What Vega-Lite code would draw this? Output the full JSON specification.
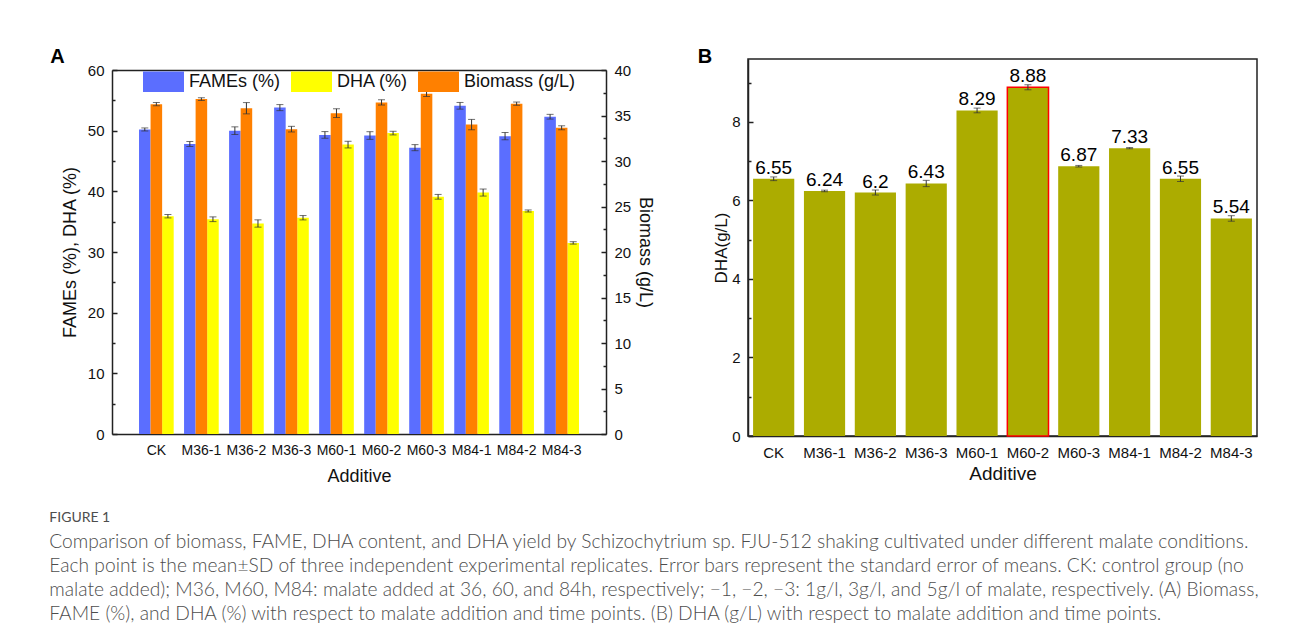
{
  "$schema": "https://vega.github.io/schema/vega-lite/v6.json",
  "background": "white",
  "padding": {"left": 49, "top": 46, "right": 10, "bottom": 5},
  "autosize": {"type": "pad"},
  "config": {
    "font": "Liberation Sans",
    "view": {"stroke": "#222", "strokeWidth": 1.5},
    "axis": {
      "domainColor": "#222", "domainWidth": 1.5, "tickColor": "#222", "tickWidth": 1.5,
      "labelColor": "#111", "titleColor": "#111", "grid": false,
      "labelFont": "Liberation Sans", "titleFont": "Liberation Sans", "titleFontWeight": "normal",
      "labelFontSize": 15, "titleFontSize": 18, "labelOverlap": false
    },
    "legend": {
      "orient": "none", "legendX": 31, "legendY": 2, "direction": "horizontal",
      "symbolType": "M-1,-0.5H1V0.5H-1Z", "symbolSize": 1681, "symbolStrokeWidth": 0,
      "labelFontSize": 18, "labelFont": "Liberation Sans", "labelColor": "#111",
      "columnPadding": 10, "labelOffset": 5, "title": null, "padding": 0
    }
  },
  "datasets": {
    "A": [
      {"Additive": "CK", "Series": "FAMEs (%)", "Axis": "left", "Value": 50.2, "Err": 0.25},
      {"Additive": "CK", "Series": "DHA (%)", "Axis": "left", "Value": 35.9, "Err": 0.28},
      {"Additive": "CK", "Series": "Biomass (g/L)", "Axis": "right", "Value": 36.25, "Err": 0.18},
      {"Additive": "M36-1", "Series": "FAMEs (%)", "Axis": "left", "Value": 47.8, "Err": 0.41},
      {"Additive": "M36-1", "Series": "DHA (%)", "Axis": "left", "Value": 35.4, "Err": 0.39},
      {"Additive": "M36-1", "Series": "Biomass (g/L)", "Axis": "right", "Value": 36.8, "Err": 0.15},
      {"Additive": "M36-2", "Series": "FAMEs (%)", "Axis": "left", "Value": 50.0, "Err": 0.63},
      {"Additive": "M36-2", "Series": "DHA (%)", "Axis": "left", "Value": 34.7, "Err": 0.6},
      {"Additive": "M36-2", "Series": "Biomass (g/L)", "Axis": "right", "Value": 35.8, "Err": 0.62},
      {"Additive": "M36-3", "Series": "FAMEs (%)", "Axis": "left", "Value": 53.8, "Err": 0.5},
      {"Additive": "M36-3", "Series": "DHA (%)", "Axis": "left", "Value": 35.65, "Err": 0.36},
      {"Additive": "M36-3", "Series": "Biomass (g/L)", "Axis": "right", "Value": 33.5, "Err": 0.31},
      {"Additive": "M60-1", "Series": "FAMEs (%)", "Axis": "left", "Value": 49.3, "Err": 0.55},
      {"Additive": "M60-1", "Series": "DHA (%)", "Axis": "left", "Value": 47.7, "Err": 0.55},
      {"Additive": "M60-1", "Series": "Biomass (g/L)", "Axis": "right", "Value": 35.26, "Err": 0.48},
      {"Additive": "M60-2", "Series": "FAMEs (%)", "Axis": "left", "Value": 49.2, "Err": 0.63},
      {"Additive": "M60-2", "Series": "DHA (%)", "Axis": "left", "Value": 49.6, "Err": 0.3},
      {"Additive": "M60-2", "Series": "Biomass (g/L)", "Axis": "right", "Value": 36.44, "Err": 0.29},
      {"Additive": "M60-3", "Series": "FAMEs (%)", "Axis": "left", "Value": 47.2, "Err": 0.5},
      {"Additive": "M60-3", "Series": "DHA (%)", "Axis": "left", "Value": 39.1, "Err": 0.39},
      {"Additive": "M60-3", "Series": "Biomass (g/L)", "Axis": "right", "Value": 37.4, "Err": 0.31},
      {"Additive": "M84-1", "Series": "FAMEs (%)", "Axis": "left", "Value": 54.1, "Err": 0.55},
      {"Additive": "M84-1", "Series": "DHA (%)", "Axis": "left", "Value": 39.8, "Err": 0.58},
      {"Additive": "M84-1", "Series": "Biomass (g/L)", "Axis": "right", "Value": 34.0, "Err": 0.57},
      {"Additive": "M84-2", "Series": "FAMEs (%)", "Axis": "left", "Value": 49.1, "Err": 0.6},
      {"Additive": "M84-2", "Series": "DHA (%)", "Axis": "left", "Value": 36.76, "Err": 0.17},
      {"Additive": "M84-2", "Series": "Biomass (g/L)", "Axis": "right", "Value": 36.3, "Err": 0.18},
      {"Additive": "M84-3", "Series": "FAMEs (%)", "Axis": "left", "Value": 52.3, "Err": 0.39},
      {"Additive": "M84-3", "Series": "DHA (%)", "Axis": "left", "Value": 31.5, "Err": 0.2},
      {"Additive": "M84-3", "Series": "Biomass (g/L)", "Axis": "right", "Value": 33.65, "Err": 0.22}
    ],
    "B": [
      {"Additive": "CK", "DHA": 6.55, "Err": 0.047},
      {"Additive": "M36-1", "DHA": 6.24, "Err": 0.02},
      {"Additive": "M36-2", "DHA": 6.2, "Err": 0.064},
      {"Additive": "M36-3", "DHA": 6.43, "Err": 0.08},
      {"Additive": "M60-1", "DHA": 8.29, "Err": 0.06},
      {"Additive": "M60-2", "DHA": 8.88, "Err": 0.064},
      {"Additive": "M60-3", "DHA": 6.87, "Err": 0.02},
      {"Additive": "M84-1", "DHA": 7.33, "Err": 0.015},
      {"Additive": "M84-2", "DHA": 6.55, "Err": 0.07},
      {"Additive": "M84-3", "DHA": 5.54, "Err": 0.07}
    ]
  },
  "title": {
    "text": "FIGURE 1",
    "subtitle": [
      "Comparison of biomass, FAME, DHA content, and DHA yield by Schizochytrium sp. FJU-512 shaking cultivated under different malate conditions.",
      "Each point is the mean±SD of three independent experimental replicates. Error bars represent the standard error of means. CK: control group (no",
      "malate added); M36, M60, M84: malate added at 36, 60, and 84h, respectively; −1, −2, −3: 1g/l, 3g/l, and 5g/l of malate, respectively. (A) Biomass,",
      "FAME (%), and DHA (%) with respect to malate addition and time points. (B) DHA (g/L) with respect to malate addition and time points."
    ],
    "orient": "bottom", "anchor": "start", "offset": 26, "dx": -1,
    "font": "Lato", "fontSize": 14, "fontWeight": "normal", "color": "#4d4d4d",
    "subtitleFont": "Lato", "subtitleFontSize": 19.2, "subtitleFontWeight": 300, "subtitleColor": "#4d4d4d",
    "subtitlePadding": 8, "subtitleLineHeight": 24
  },
  "columns": 2,
  "spacing": 42,
  "concat": [
    {
      "width": 494, "height": 375,
      "view": {"stroke": null},
      "title": {"text": "A", "anchor": "start", "fontSize": 20, "fontWeight": "bold", "color": "#000", "offset": -8, "dx": -11},
      "data": {"name": "A"},
      "encoding": {
        "x": {
          "field": "Additive", "type": "nominal", "sort": null,
          "scale": {"paddingInner": 0.23, "paddingOuter": 0.6},
          "axis": {"title": "Additive", "labelAngle": 0, "labelFontSize": 14, "tickSize": -5, "labelPadding": 14, "titlePadding": 10}
        },
        "xOffset": {
          "field": "Series", "type": "nominal",
          "scale": {"domain": ["FAMEs (%)", "Biomass (g/L)", "DHA (%)"], "paddingInner": 0, "paddingOuter": 0}
        }
      },
      "layer": [
        {
          "transform": [{"filter": "datum.Axis === 'left'"}],
          "encoding": {
            "y": {
              "field": "Value", "type": "quantitative",
              "scale": {"domain": [0, 60], "nice": false, "range": [375, 11]},
              "axis": {
                "title": "FAMEs (%), DHA (%)", "values": [0, 5, 10, 15, 20, 25, 30, 35, 40, 45, 50, 55, 60],
                "labelExpr": "datum.value % 10 === 0 ? datum.label : ''",
                "tickSize": {"condition": {"test": "datum.value % 10 !== 0", "value": -3}, "value": -5},
                "labelPadding": 13, "titlePadding": 8
              }
            }
          },
          "layer": [
            {
              "mark": {"type": "bar"},
              "encoding": {
                "color": {
                  "field": "Series", "type": "nominal",
                  "scale": {"domain": ["FAMEs (%)", "DHA (%)", "Biomass (g/L)"], "range": ["#5B6EFF", "#FFFF00", "#FF8000"]}
                }
              }
            },
            {
              "mark": {"type": "errorbar", "color": "#333", "thickness": 1, "ticks": {"size": 7}},
              "encoding": {"yError": {"field": "Err"}}
            }
          ]
        },
        {
          "transform": [{"filter": "datum.Axis === 'right'"}],
          "encoding": {
            "x": {
              "field": "Additive", "type": "nominal", "sort": null,
              "axis": {"orient": "top", "offset": -11, "labels": false, "ticks": false, "title": null}
            },
            "y": {
              "field": "Value", "type": "quantitative",
              "scale": {"domain": [0, 40], "nice": false, "range": [375, 11]},
              "axis": {
                "orient": "right", "title": "Biomass (g/L)",
                "values": [0, 2.5, 5, 7.5, 10, 12.5, 15, 17.5, 20, 22.5, 25, 27.5, 30, 32.5, 35, 37.5, 40],
                "labelExpr": "datum.value % 5 === 0 ? datum.label : ''",
                "tickSize": {"condition": {"test": "datum.value % 5 !== 0", "value": -3}, "value": -5},
                "labelPadding": 13, "titlePadding": 5
              }
            }
          },
          "layer": [
            {
              "mark": {"type": "bar"},
              "encoding": {
                "color": {
                  "field": "Series", "type": "nominal",
                  "scale": {"domain": ["FAMEs (%)", "DHA (%)", "Biomass (g/L)"], "range": ["#5B6EFF", "#FFFF00", "#FF8000"]}
                }
              }
            },
            {
              "mark": {"type": "errorbar", "color": "#333", "thickness": 1, "ticks": {"size": 7}},
              "encoding": {"yError": {"field": "Err"}}
            }
          ]
        }
      ],
      "resolve": {"scale": {"y": "independent"}, "axis": {"x": "independent"}}
    },
    {
      "width": 509, "height": 377,
      "title": {"text": "B", "anchor": "start", "fontSize": 20, "fontWeight": "bold", "color": "#000", "offset": -8, "dx": -15},
      "data": {"name": "B"},
      "encoding": {
        "x": {
          "field": "Additive", "type": "nominal", "sort": null,
          "scale": {"paddingInner": 0.19, "paddingOuter": 0.1},
          "axis": {"title": "Additive", "labelAngle": 0, "labelFontSize": 15, "tickSize": -5, "labelPadding": 14, "titlePadding": 4, "titleFontSize": 19}
        },
        "y": {
          "field": "DHA", "type": "quantitative",
          "scale": {"domain": [0, 9.6], "nice": false},
          "axis": {
            "title": "DHA(g/L)", "values": [0, 1, 2, 3, 4, 5, 6, 7, 8, 9],
            "labelExpr": "datum.value % 2 === 0 ? datum.label : ''",
            "tickSize": {"condition": {"test": "datum.value % 2 !== 0", "value": -3}, "value": -5},
            "labelPadding": 13, "titlePadding": 1, "titleFontSize": 17
          }
        }
      },
      "layer": [
        {
          "mark": {"type": "bar", "color": "#ACAC00", "stroke": "#FF0000", "strokeWidth": 1.5},
          "encoding": {
            "strokeOpacity": {"condition": {"test": "datum.Additive === 'M60-2'", "value": 1}, "value": 0}
          }
        },
        {
          "mark": {"type": "errorbar", "color": "#333", "thickness": 1, "ticks": {"size": 7}},
          "encoding": {"yError": {"field": "Err"}}
        },
        {
          "mark": {"type": "text", "fontSize": 19, "baseline": "alphabetic", "dy": -5, "color": "#000"},
          "encoding": {"text": {"field": "DHA", "type": "quantitative", "format": ".3~"}}
        }
      ]
    }
  ]
}
